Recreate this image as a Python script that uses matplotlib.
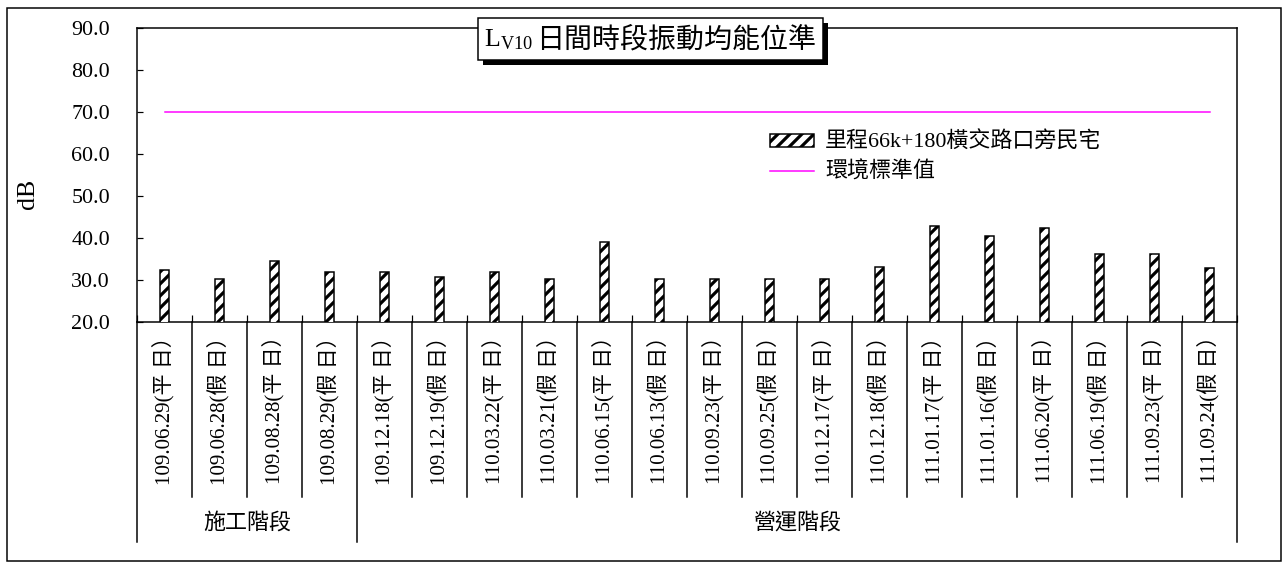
import numpy as np
import matplotlib
matplotlib.use('Agg')
import matplotlib.pyplot as plt
from matplotlib.patches import Rectangle

plt.rcParams['font.family'] = ['Liberation Serif', 'Noto Sans CJK TC']
plt.rcParams['mathtext.fontset'] = 'custom'
plt.rcParams['mathtext.rm'] = 'Liberation Serif'
plt.rcParams['hatch.linewidth'] = 3.2

dates = ['109.06.29', '109.06.28', '109.08.28', '109.08.29', '109.12.18',
         '109.12.19', '110.03.22', '110.03.21', '110.06.15', '110.06.13',
         '110.09.23', '110.09.25', '110.12.17', '110.12.18', '111.01.17',
         '111.01.16', '111.06.20', '111.06.19', '111.09.23', '111.09.24']
day_type = ['平', '假'] * 10
values = [32.4, 30.2, 34.5, 32.0, 32.0, 30.6, 32.0, 30.2, 39.1, 30.2,
          30.2, 30.2, 30.2, 33.2, 42.9, 40.4, 42.5, 36.2, 36.2, 32.8]
groups = ['施工階段', '營運階段']
group_sizes = [4, 16]
standard = 70.0
series_name = '里程66k+180橫交路口旁民宅'
standard_name = '環境標準值'

W, H = 1283, 564
fx = lambda px: px / W
fy = lambda py: 1 - py / H

fig = plt.figure(figsize=(W / 72, H / 72), dpi=72)
ax = fig.add_axes([fx(137), fy(322), fx(1237) - fx(137), fy(28) - fy(322)])

x = np.arange(len(values))
labels = [f'{d}({t} 日）' for d, t in zip(dates, day_type)]

bars = ax.bar(x, values, width=0.18, color='white', edgecolor='black',
              linewidth=1.5, hatch='//', label=series_name, zorder=3)
line, = ax.plot([x[0], x[-1]], [standard, standard], color='#FF00FF', lw=1.5,
                label=standard_name, zorder=2)

ax.set_xlim(-0.5, len(values) - 0.5)
ax.set_ylim(20, 90)
ax.set_yticks(np.arange(20, 91, 10))
ax.set_yticklabels([f'{v:.1f}' for v in np.arange(20, 91, 10)], fontsize=22)
ax.tick_params(axis='y', direction='in', length=6, width=1.2, pad=27)

ax.set_xticks(x)
ax.set_xticklabels(labels, rotation=90, fontsize=21)
ax.tick_params(axis='x', which='major', length=0, pad=4)
ax.set_xticks(np.arange(-0.5, len(values), 1), minor=True)
ax.tick_params(axis='x', which='minor', direction='in', length=7, width=1.2)

for s in ax.spines.values():
    s.set_linewidth(1.5)

# category and group separators below the axis
trans = ax.get_xaxis_transform()
y_cat = (322 - 497) / 294
y_grp = (322 - 542) / 294
bounds = np.cumsum([0] + group_sizes) - 0.5
for b in np.arange(-0.5, len(values), 1):
    ybot = y_grp if b in bounds else y_cat
    ax.plot([b, b], [0, ybot], color='black', lw=1.5, transform=trans,
            clip_on=False)
for g, lo, hi in zip(groups, bounds[:-1], bounds[1:]):
    ax.text((lo + hi) / 2, (322 - 523) / 294, g, transform=trans,
            ha='center', va='center', fontsize=22)

ax.legend([bars, line], [series_name, standard_name], loc='upper left',
          bbox_to_anchor=(fx(770), fy(132)),
          bbox_transform=fig.transFigure, frameon=False, fontsize=22,
          handlelength=2.0, handleheight=0.5, handletextpad=0.5,
          labelspacing=0.4, borderpad=0, borderaxespad=0)

fig.text(fx(28), fy(194), 'dB', rotation=90, ha='center', va='center',
         fontsize=26)

# title box with shadow
fig.patches.append(Rectangle((fx(483), fy(65)), fx(823) - fx(478),
                             fy(18) - fy(60), transform=fig.transFigure,
                             facecolor='black', edgecolor='none', zorder=5))
fig.patches.append(Rectangle((fx(478), fy(60)), fx(823) - fx(478),
                             fy(18) - fy(60), transform=fig.transFigure,
                             facecolor='white', edgecolor='black', lw=1.5,
                             zorder=6))
fig.text(fx(533), fy(40), r'$\mathrm{L_{V10}}$', ha='right', va='center',
         fontsize=26, zorder=7)
fig.text(fx(536), fy(40), '日間時段振動均能位準', ha='left', va='center',
         fontsize=28, zorder=7)

# outer frame
fig.patches.append(Rectangle((fx(7), fy(561)), fx(1281) - fx(7),
                             fy(8) - fy(561), transform=fig.transFigure,
                             facecolor='none', edgecolor='black', lw=1.5))

fig.savefig('out.png', dpi=72)
